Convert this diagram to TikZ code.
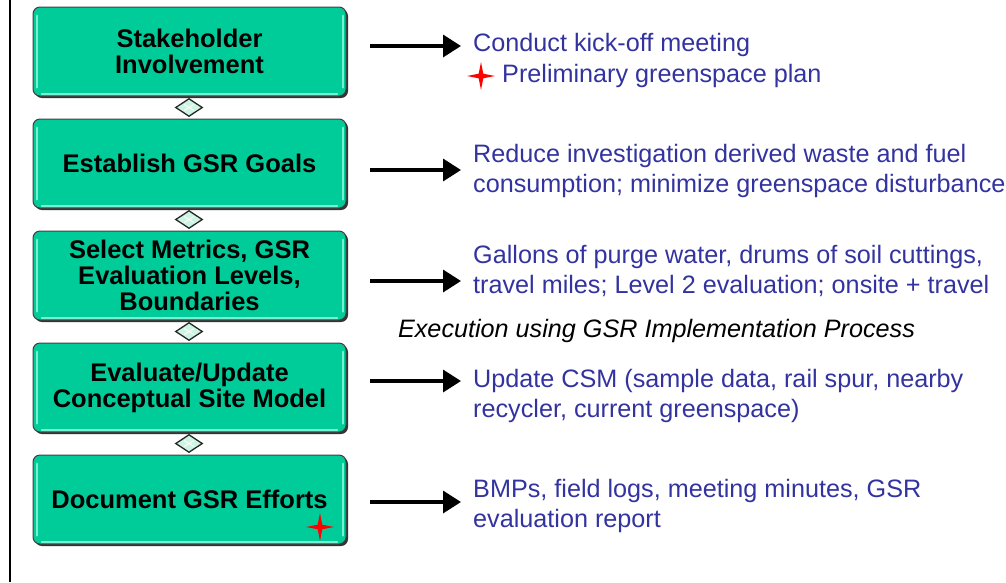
\documentclass[tikz,border=0pt]{standalone}
\usepackage{fontspec}
\setmainfont{Liberation Sans}
\usetikzlibrary{shapes.geometric,shadows,arrows.meta}
\definecolor{boxgreen}{RGB}{0,204,153}
\definecolor{hlgreen}{RGB}{120,240,210}
\definecolor{diafill}{RGB}{205,245,228}
\definecolor{txtblue}{RGB}{51,51,160}
\tikzset{
  procbox/.style={draw=black!75, line width=1pt, fill=boxgreen, rounded corners=7pt,
    minimum width=313pt, minimum height=89pt, align=center, inner sep=0pt,
    font=\fontsize{25.5}{26}\selectfont\bfseries,
    general shadow={fill=black!80, shadow xshift=2pt, shadow yshift=-2pt}},
  hl/.style={draw=hlgreen, line width=2pt, line cap=round},
  dia/.style={diamond, draw=black!85, line width=1.3pt, fill=diafill,
    minimum width=27pt, minimum height=18pt, inner sep=0pt},
  arr/.style={line width=3.5pt, -{Triangle[length=18pt,width=22pt]}},
  bluetxt/.style={text=txtblue, font=\fontsize{25.2}{30}\selectfont, align=left, inner sep=0pt},
  redstar/.pic={\fill[red] (0,-14) -- (2.3,-2.3) -- (14,0) -- (2.3,2.3) -- (0,14) -- (-2.3,2.3) -- (-14,0) -- (-2.3,-2.3) -- cycle;}
}
\begin{document}
\begin{tikzpicture}[x=1pt,y=-1pt]
\useasboundingbox (0,0) rectangle (1006,582);
\draw[line width=2pt] (10,0) -- (10,582);
% process boxes
\node[procbox] (b1) at (189.5,51.5) {Stakeholder\\Involvement};
\node[procbox] (b2) at (189.5,163.5) {Establish GSR Goals};
\node[procbox] (b3) at (189.5,275.5) {Select Metrics, GSR\\Evaluation Levels,\\Boundaries};
\node[procbox] (b4) at (189.5,387.5) {Evaluate/Update\\Conceptual Site Model};
\node[procbox] (b5) at (189.5,499.5) {Document GSR Efforts};
\foreach \b in {b1,b2,b3,b4,b5}{
  \draw[hl] ([xshift=4pt,yshift=-9pt]\b.north west) -- ([xshift=4pt,yshift=9pt]\b.south west);
  \draw[hl] ([xshift=-4pt,yshift=-9pt]\b.north east) -- ([xshift=-4pt,yshift=9pt]\b.south east);
  \draw[hl, line width=1.2pt] ([xshift=9pt,yshift=2.5pt]\b.south west) -- ([xshift=-9pt,yshift=2.5pt]\b.south east);
}
% diamonds
\foreach \n/\y in {d1/107.5,d2/219.5,d3/331.5,d4/443.5}{
  \node[dia] (\n) at (189,\y) {};
  \draw[white, line width=0.8pt] ([xshift=-5pt,yshift=3pt]\n.center) -- ([xshift=5pt,yshift=-3pt]\n.center)
        ([xshift=-5pt,yshift=-3pt]\n.center) -- ([xshift=5pt,yshift=3pt]\n.center);
}
\pic at (320,527) {redstar};
% arrows
\foreach \i/\y in {1/46,2/170,3/281,4/381,5/502}{
  \coordinate (s\i) at (370,\y);
  \coordinate (e\i) at (461,\y);
  \draw[arr] (s\i) -- (e\i);
}
% texts
\node[bluetxt, anchor=west] (t1a) at (473,45) {Conduct kick-off meeting};
\pic at (481,76) {redstar};
\node[bluetxt, anchor=west] (t1b) at (502,76) {Preliminary greenspace plan};
\node[bluetxt, anchor=west] (t2) at (473,170.5) {Reduce investigation derived waste and fuel\\consumption; minimize greenspace disturbance};
\node[bluetxt, anchor=west] (t3) at (473,271) {Gallons of purge water, drums of soil cuttings,\\travel miles; Level 2 evaluation; onsite + travel};
\node[font=\fontsize{25.2}{30}\selectfont\itshape, inner sep=0pt] (ex) at (656.5,331) {Execution using GSR Implementation Process};
\node[bluetxt, anchor=west] (t4) at (473,396) {Update CSM (sample data, rail spur, nearby\\recycler, current greenspace)};
\node[bluetxt, anchor=west] (t5) at (473,506) {BMPs, field logs, meeting minutes, GSR\\evaluation report};
\end{tikzpicture}
\end{document}
